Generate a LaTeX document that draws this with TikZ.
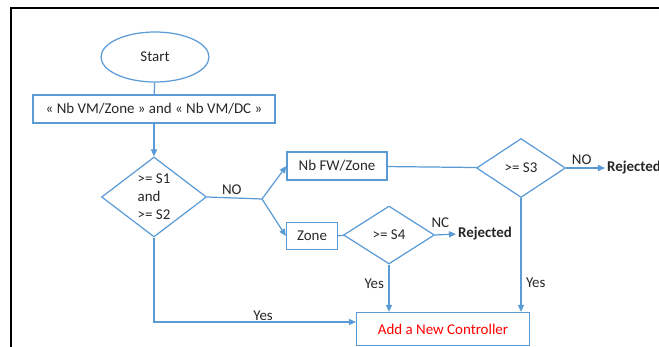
\documentclass[tikz,border=0pt]{standalone}
\usepackage{fontspec}
\setmainfont{Carlito}
\usepackage{xcolor}
\usetikzlibrary{arrows.meta, positioning, shapes.geometric}
\definecolor{flowblue}{RGB}{91,155,213}

\begin{document}
\begin{tikzpicture}[
    x=0.02cm, y=-0.02cm,
    font=\fontsize{8.5}{10.2}\selectfont, text=black!85,
    terminal/.style={draw=flowblue, ellipse, line width=0.7pt,
                     minimum width=2.16cm, minimum height=1cm},
    box/.style={draw=flowblue, line width=0.7pt, minimum height=0.56cm,
                inner sep=1pt},
    decision/.style={draw=flowblue, diamond, line width=0.7pt, inner sep=0pt},
    result/.style={font=\fontsize{8.5}{10.2}\selectfont\bfseries, inner sep=1pt},
    lbl/.style={inner sep=0.5pt},
    arr/.style={-{Triangle[length=4pt, width=3.5pt]}, draw=flowblue, line width=0.7pt},
    link/.style={draw=flowblue, line width=0.7pt}
]
\clip (0,0) rectangle (659,347);
\draw[line width=1.2pt] (11,347) -- (11,8) -- (659,8);

\node[terminal] (start) at (155,57) {Start};
\node[box, minimum width=4.84cm] (counts) at (154,109)
    {« Nb VM/Zone » and « Nb VM/DC »};
\node[decision, minimum width=2.1cm, minimum height=1.6cm, align=left] (s12)
    at (154,197) {>= S1\\and\\>= S2};
\coordinate (fork) at (262,199);
\node[box, minimum width=2cm] (fwzone) at (337,166) {Nb FW/Zone};
\node[box, minimum width=1.02cm, minimum height=0.54cm] (zone) at (312,236) {Zone};
\node[decision, minimum width=1.78cm, minimum height=1.18cm] (s3) at (521,168) {>= S3};
\node[decision, minimum width=1.82cm, minimum height=1.16cm] (s4) at (389,235) {>= S4};
\node[result, anchor=west] (rej1) at (605,168) {Rejected};
\node[result, anchor=west] (rej2) at (456,234) {Rejected};
\node[box, minimum width=3.46cm, minimum height=0.66cm, text=red] (add)
    at (443,329) {Add a New Controller};

\draw[link] (start) -- (counts);
\draw[arr] (counts) -- (s12);
\draw[link] (s12.east) -- node[lbl, above=1pt, pos=0.45] {NO} (fork);
\draw[arr] (fork) -- (fwzone.west);
\draw[arr] (fork) -- (zone.west);
\draw[link] (fwzone) -- (s3);
\draw[arr] (s3.east) -- node[lbl, above=1pt, pos=0.4] {NO} (rej1.west);
\draw[link] (zone) -- (s4);
\draw[arr] (s4.east) -- node[lbl, above=3pt, pos=0.25] {NC} (rej2.west);
\draw[arr] (s4.south) -- node[lbl, left=2pt, pos=0.4] {Yes} (add.north -| s4.south);
\draw[arr] (s3.south) -- node[lbl, right=2pt, pos=0.74] {Yes} (add.north -| s3.south);
\draw[arr] (s12.south) |- node[lbl, above, pos=0.77] {Yes} ([yshift=0.14cm]add.west);
\end{tikzpicture}
\end{document}
